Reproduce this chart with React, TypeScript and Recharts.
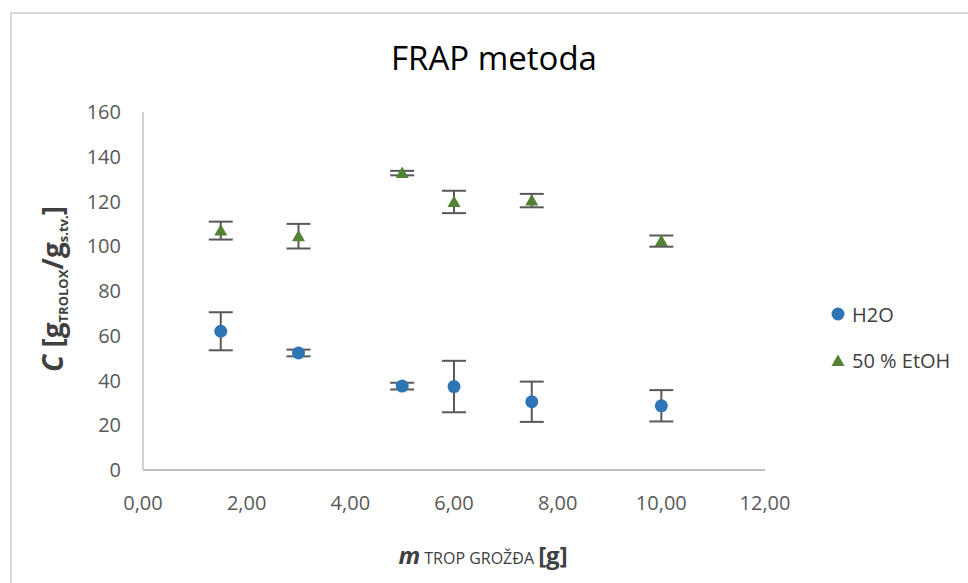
import React from "react";
import {
  ScatterChart,
  Scatter,
  XAxis,
  YAxis,
  ErrorBar,
  Legend,
} from "recharts";

const xValues = [1.5, 3, 5, 6, 7.5, 10];
const h2oValues = [62, 52.3, 37.5, 37.3, 30.5, 28.7];
const h2oErrors = [8.5, 1.5, 1.5, 11.5, 9, 7];
const etohValues = [107, 104.5, 132.7, 119.8, 120.4, 102.3];
const etohErrors = [4, 5.5, 1, 5, 3, 2.5];
const xTicks = [0, 2, 4, 6, 8, 10, 12];
const yTicks = [0, 20, 40, 60, 80, 100, 120, 140, 160];

const h2oData = xValues.map((x, i) => ({ x, y: h2oValues[i], err: h2oErrors[i] }));
const etohData = xValues.map((x, i) => ({ x, y: etohValues[i], err: etohErrors[i] }));

const FONT = "'Open Sans', 'Liberation Sans', sans-serif";
const BLUE = "#2e75b6";
const GREEN = "#548235";

const CircleShape = (props: any) => (
  <circle cx={props.cx} cy={props.cy} r={6.5} fill={BLUE} />
);
const TriangleShape = (props: any) => {
  const { cx, cy } = props;
  return (
    <polygon
      points={`${cx},${cy - 6.5} ${cx + 6.5},${cy + 5} ${cx - 6.5},${cy + 5}`}
      fill={GREEN}
    />
  );
};

const fmt = (v: number) => v.toFixed(2).replace(".", ",");

const YLabel = () => {
  const bx = 63;
  const cy = 289;
  return (
    <text
      x={0}
      y={0}
      transform={`translate(${bx},${cy}) rotate(-90)`}
      textAnchor="middle"
      fontFamily={FONT}
      fill="#404040"
      fontWeight="bold"
      fontSize={28}
    >
      <tspan fontStyle="italic">C</tspan>
      <tspan> [g</tspan>
      <tspan fontSize={13} dy={5}>TROLOX</tspan>
      <tspan dy={-5}>/g</tspan>
      <tspan fontSize={13} dy={5}>s.tv.</tspan>
      <tspan dy={-5}>]</tspan>
    </text>
  );
};

const XLabel = () => {
  return (
    <text
      x={483}
      y={564}
      textAnchor="middle"
      fontFamily={FONT}
      fill="#404040"
    >
      <tspan fontWeight="bold" fontStyle="italic" fontSize={24}>m</tspan>
      <tspan fontSize={16}> TROP GROŽĐA </tspan>
      <tspan fontWeight="bold" fontSize={24}>[g]</tspan>
    </text>
  );
};

const LegendContent = () => (
  <div style={{ fontFamily: FONT, fontSize: 20, color: "#404040" }}>
    <div style={{ display: "flex", alignItems: "center", height: 28 }}>
      <svg width={16} height={16} style={{ marginRight: 6 }}>
        <circle cx={8} cy={8} r={6.5} fill={BLUE} />
      </svg>
      <span>H2O</span>
    </div>
    <div style={{ display: "flex", alignItems: "center", height: 28, marginTop: 18.5 }}>
      <svg width={16} height={16} style={{ marginRight: 6 }}>
        <polygon points="8,1.5 14.5,13 1.5,13" fill={GREEN} />
      </svg>
      <span>50 % EtOH</span>
    </div>
  </div>
);

export default function App() {
  return (
    <div
      style={{
        position: "absolute",
        left: 0,
        top: 0,
        width: 968,
        height: 583,
        overflow: "hidden",
        background: "#fff",
      }}
    >
      <div
        style={{
          position: "absolute",
          left: 10,
          top: 12,
          width: 1000,
          height: 700,
          border: "2px solid #d9d9d9",
          boxSizing: "border-box",
        }}
      />
      <div
        style={{
          position: "absolute",
          left: 0,
          width: 968,
          top: 35,
          textAlign: "center",
          fontFamily: FONT,
          fontSize: 33,
          color: "#000",
          paddingLeft: 20,
          boxSizing: "border-box",
        }}
      >
        FRAP metoda
      </div>
      <div style={{ position: "absolute", left: 0, top: 0 }}>
        <ScatterChart
          width={968}
          height={583}
          margin={{ top: 112, right: 203, bottom: 83, left: 83 }}
        >
          <XAxis
            type="number"
            dataKey="x"
            domain={[0, 12]}
            ticks={xTicks}
            tickFormatter={fmt}
            axisLine={{ stroke: "#bfbfbf", strokeWidth: 2 }}
            tickLine={false}
            tickMargin={20}
            height={30}
            tick={{ fill: "#595959", fontSize: 20, fontFamily: FONT }}
            label={<XLabel />}
          />
          <YAxis
            type="number"
            dataKey="y"
            domain={[0, 160]}
            ticks={yTicks}
            axisLine={{ stroke: "#d0d0d0", strokeWidth: 2 }}
            tickLine={false}
            tickMargin={16}
            width={60}
            tick={{ fill: "#595959", fontSize: 20, fontFamily: FONT }}
            label={<YLabel />}
          />
          <Legend
            verticalAlign="middle"
            align="center"
            layout="horizontal"
            content={<LegendContent />}
            wrapperStyle={{ left: 830, top: 300, width: 138, height: 80 }}
          />
          <Scatter
            name="H2O"
            data={h2oData}
            fill={BLUE}
            shape={<CircleShape />}
            isAnimationActive={false}
          >
            <ErrorBar dataKey="err" direction="y" width={12} stroke="#595959" strokeWidth={2} />
          </Scatter>
          <Scatter
            name="50 % EtOH"
            data={etohData}
            fill={GREEN}
            shape={<TriangleShape />}
            isAnimationActive={false}
          >
            <ErrorBar dataKey="err" direction="y" width={12} stroke="#595959" strokeWidth={2} />
          </Scatter>
        </ScatterChart>
      </div>
    </div>
  );
}
